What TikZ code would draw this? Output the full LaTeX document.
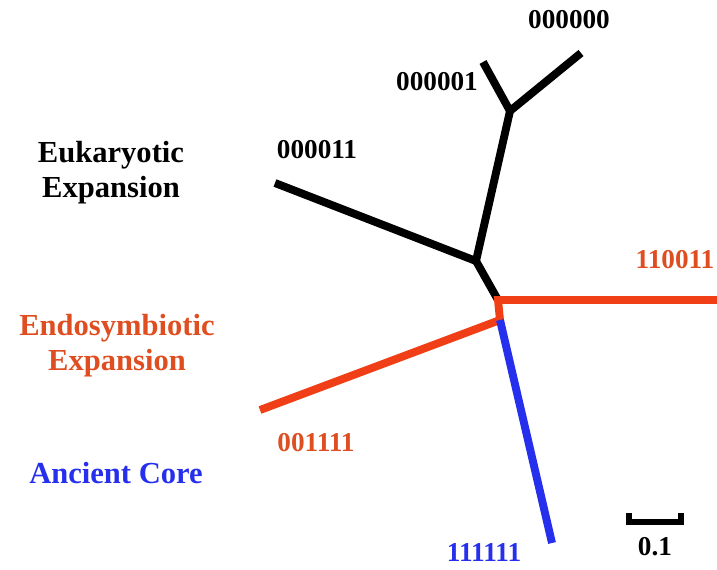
\documentclass[tikz,border=0pt]{standalone}
\usepackage{fontspec}
\setmainfont{Liberation Serif}
\definecolor{endored}{RGB}{240,62,22}
\definecolor{endotext}{RGB}{222,78,32}
\definecolor{coreblue}{RGB}{38,48,236}
\begin{document}
\begin{tikzpicture}[x=0.02cm,y=-0.02cm,
	branch/.style={line width=4.5pt},
	leaf/.style={font=\bfseries\fontsize{15.5}{18}\selectfont},
	group/.style={font=\bfseries\fontsize{17.4}{20}\selectfont,align=center}]
	\useasboundingbox (0,0) rectangle (717,569);
	% inner vertices
	\coordinate (euk) at (510,111);
	\coordinate (mid) at (476,261);
	\coordinate (top) at (498,300);
	\coordinate (bot) at (500,320);
	% tips
	\coordinate (t0) at (581,53);
	\coordinate (t1) at (483,62);
	\coordinate (t3) at (275,183);
	\coordinate (t51) at (717,300);
	\coordinate (t15) at (260,410);
	\coordinate (t63) at (552,543);
	\draw[branch] (t0)--(euk)--(t1);
	\draw[branch] (euk)--(mid)--(t3);
	\draw[branch] (mid)--(top);
	\draw[branch,endored] (t51)--(top)--(bot)--(t15);
	\draw[branch,coreblue] (bot)--(t63);
	% leaf labels
	\node[leaf] (l0) at (569,20) {000000};
	\node[leaf] (l1) at (437,82) {000001};
	\node[leaf] (l3) at (317,150) {000011};
	\node[leaf,endotext,inner xsep=0pt] (l51) at (675,260) {110011};
	\node[leaf,endotext] (l15) at (316,443) {001111};
	\node[leaf,coreblue] (l63) at (484,553) {111111};
	% groups
	\node[group] (geuk) at (111,173) {Eukaryotic\\Expansion};
	\node[group,endotext] (gendo) at (117,346) {Endosymbiotic\\Expansion};
	\node[group,coreblue] (gcore) at (116,473) {Ancient Core};
	% scale bar
	\coordinate (s1) at (629,513);
	\coordinate (s2) at (681,513);
	\draw[line width=3pt] (s1)--++(0,9)-|(s2);
	\node[leaf] (sl) at (655,547) {0.1};
\end{tikzpicture}
\end{document}
